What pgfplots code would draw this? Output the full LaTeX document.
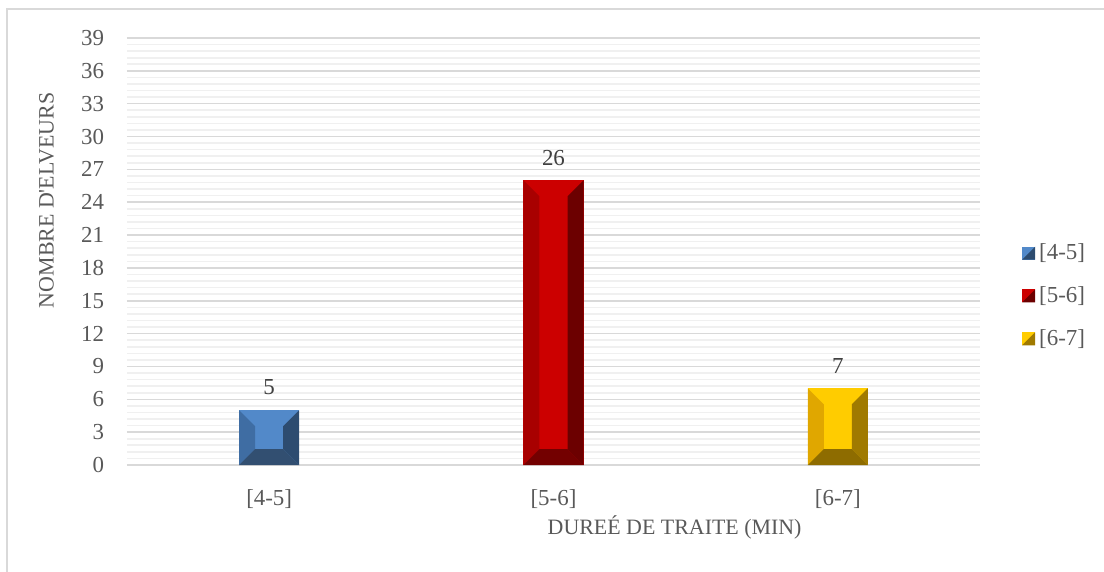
\documentclass[border=0pt]{standalone}
\usepackage{pgfplots}
\pgfplotsset{compat=1.18}
\usetikzlibrary{calc}
\usepackage{fontspec}
\setmainfont{Liberation Serif}
\definecolor{txt}{HTML}{595959}
\definecolor{bfront}{HTML}{5289C9}
\definecolor{bleft}{HTML}{3F6DA3}
\definecolor{bright}{HTML}{2D4C70}
\definecolor{bbot}{HTML}{324F71}
\definecolor{rfront}{HTML}{CC0000}
\definecolor{rleft}{HTML}{A80000}
\definecolor{rright}{HTML}{6C0000}
\definecolor{rbot}{HTML}{730000}
\definecolor{yfront}{HTML}{FFCC00}
\definecolor{yleft}{HTML}{E0A700}
\definecolor{yright}{HTML}{A07A00}
\definecolor{ybot}{HTML}{8E6C00}
\tikzset{bevel/.style n args={3}{path picture={
  \fill[path picture={}, #1] let \p1=(path picture bounding box.south west), \p2=(path picture bounding box.north east) in
     (\x1,\y1) -- (\x1+8bp,\y1+8bp) -- (\x1+8bp,\y2-8bp) -- (\x1,\y2) -- cycle;
  \fill[path picture={}, #2] let \p1=(path picture bounding box.south west), \p2=(path picture bounding box.north east) in
     (\x2,\y1) -- (\x2-8bp,\y1+8bp) -- (\x2-8bp,\y2-8bp) -- (\x2,\y2) -- cycle;
  \fill[path picture={}, #3] let \p1=(path picture bounding box.south west), \p2=(path picture bounding box.north east) in
     (\x1,\y1) -- (\x2,\y1) -- (\x2-8bp,\y1+8bp) -- (\x1+8bp,\y1+8bp) -- cycle;
}}}
\newcommand{\legimg}[2]{\fill[path picture={}, #1] (0bp,-3.25bp) rectangle (6.5bp,3.25bp);
  \fill[path picture={}, #2] (0bp,-3.25bp) -- (6.5bp,-3.25bp) -- (6.5bp,3.25bp) -- cycle;}
\begin{document}
\begin{tikzpicture}
\begin{axis}[
  scale only axis, width=426.5bp, height=213.5bp,
  ybar, bar shift=0pt, bar width=30bp,
  xmin=-0.5, xmax=2.5, ymin=0, ymax=39,
  xtick={0,1,2}, xticklabels={{[4-5]},{[5-6]},{[6-7]}},
  ytick={0,3,...,39}, minor y tick num=4,
  ymajorgrids, yminorgrids,
  major grid style={draw=black!15, line width=0.8bp},
  minor grid style={draw=black!6, line width=0.8bp},
  separate axis lines,
  x axis line style={draw=black!15, line width=0.8bp},
  y axis line style={draw=none},
  tick style={draw=none},
  major tick length=0pt, minor tick length=0pt,
  ticklabel style={font=\fontsize{11.5}{13}\selectfont, text=txt},
  /pgf/number format/assume math mode=true,
  yticklabel style={xshift=-8bp},
  xticklabel style={yshift=-9bp},
  xlabel={DUREÉ DE TRAITE (MIN)},
  ylabel={NOMBRE D\textquotesingle ELVEURS},
  label style={font=\fontsize{11}{13}\selectfont, text=txt},
  xlabel style={at={(axis description cs:0.642,0)}, anchor=north, yshift=-22bp},
  ylabel style={at={(axis description cs:0,0.62)}, anchor=south, yshift=33bp},
  nodes near coords,
  every node near coord/.append style={font=\fontsize{11.5}{13}\selectfont, text=black!75, yshift=4bp},
  legend style={at={(axis description cs:1.042,0.396)}, anchor=west, draw=none, fill=none,
    font=\fontsize{11.5}{13}\selectfont, text=txt, row sep=8bp,
    legend cell align=left},
]
\addplot[fill=bfront, draw=none, bevel={bleft}{bright}{bbot},
  legend image code/.code={\legimg{bfront}{bright}}] coordinates {(0,5)};
\addlegendentry{[4-5]}
\addplot[fill=rfront, draw=none, bevel={rleft}{rright}{rbot},
  legend image code/.code={\legimg{rfront}{rright}}] coordinates {(1,26)};
\addlegendentry{[5-6]}
\addplot[fill=yfront, draw=none, bevel={yleft}{yright}{ybot},
  legend image code/.code={\legimg{yfront}{yright}}] coordinates {(2,7)};
\addlegendentry{[6-7]}
\end{axis}
\path[use as bounding box] (-63.5bp,-53.5bp) rectangle (488.5bp,232.5bp);
\draw[black!15, line width=0.8bp] (-60bp,-53.5bp) -- (-60bp,228bp) -- (488.5bp,228bp);
\end{tikzpicture}
\end{document}
